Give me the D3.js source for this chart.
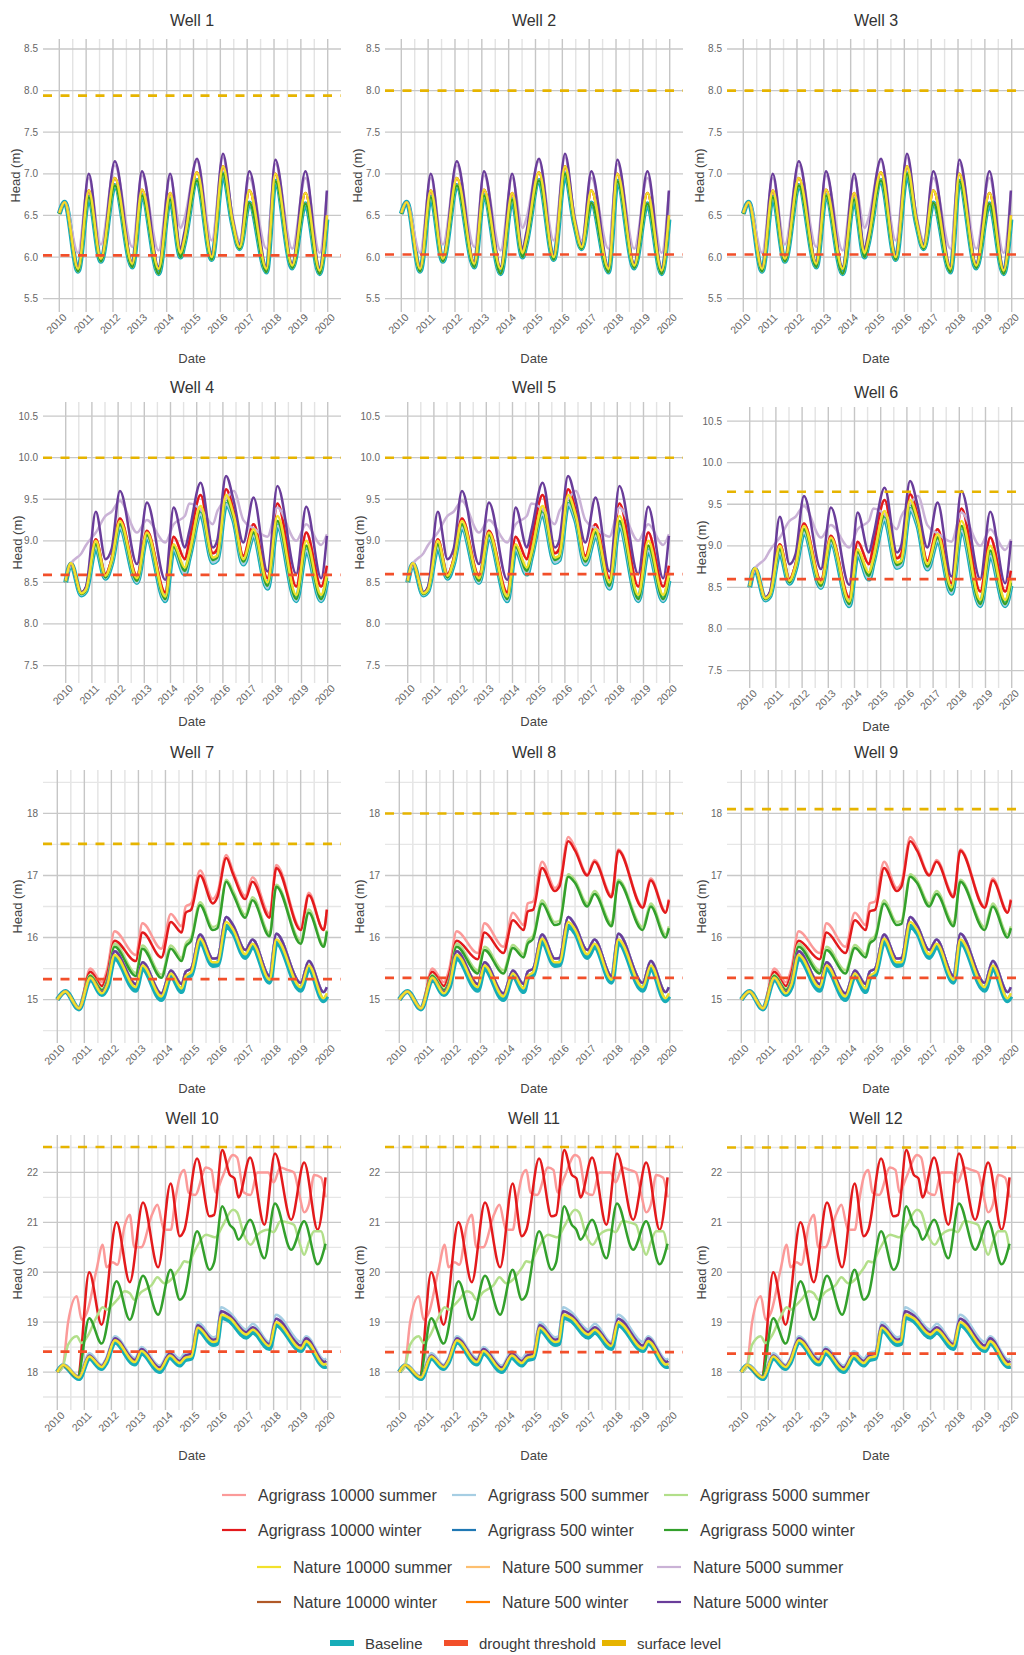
<!DOCTYPE html>
<html>
<head>
<meta charset="utf-8">
<script src="https://cdn.jsdelivr.net/npm/d3@7"></script>
<style>
  body { margin: 0; background: #fff; }
  svg text { font-family: "Liberation Sans", Arial, sans-serif; }
  .lg text { fill: #3a3a3a; }
</style>
</head>
<body>
<svg id="chart" width="1024" height="1655"></svg>
<script>
// ---- values (decimal years / head in m) ----
var scenarioNames = ["Agrigrass 10000 summer", "Agrigrass 10000 winter", "Agrigrass 500 summer", "Agrigrass 500 winter",
  "Agrigrass 5000 summer", "Agrigrass 5000 winter", "Nature 10000 summer", "Nature 10000 winter",
  "Nature 500 summer", "Nature 500 winter", "Nature 5000 summer", "Nature 5000 winter"];
var scenarioColors = ["#fb9a99", "#e31a1c", "#a6cee3", "#1f78b4", "#b2df8a", "#33a02c",
  "#f2e12b", "#b15928", "#fdbf6f", "#ff7f00", "#cab2d6", "#6a3d9a"];

var wellNames = ["Well 1", "Well 2", "Well 3", "Well 4", "Well 5", "Well 6",
  "Well 7", "Well 8", "Well 9", "Well 10", "Well 11", "Well 12"];
var surfaceLevel = [7.94, 8.0, 8.0, 10.0, 10.0, 9.65, 17.51, 18.0, 18.07, 22.51, 22.51, 22.5];
var droughtLevel = [6.02, 6.03, 6.03, 8.59, 8.6, 8.6, 15.33, 15.35, 15.35, 18.41, 18.4, 18.37];

// wells 1-3
var tA = [2010.0, 2010.2, 2010.7, 2011.1, 2011.55, 2012.07, 2012.72, 2013.08, 2013.7, 2014.13, 2014.52, 2014.65,
  2015.13, 2015.68, 2016.1, 2016.45, 2016.72, 2017.08, 2017.72, 2018.05, 2018.68, 2019.17, 2019.7, 2019.97];
var aBase = [6.52, 6.66, 5.83, 6.72, 5.95, 6.86, 5.88, 6.74, 5.8, 6.69, 6.0, 6.15, 6.92, 5.97, 7.0, 6.4, 6.1, 6.65, 5.82, 6.91, 5.87, 6.64, 5.8, 6.45];
var aYellow = [6.53, 6.66, 5.86, 6.8, 5.98, 6.95, 5.92, 6.81, 5.86, 6.77, 6.05, 6.2, 7.02, 6.0, 7.09, 6.44, 6.12, 6.8, 5.86, 7.0, 5.9, 6.77, 5.84, 6.5];
var aPurple = [6.53, 6.66, 5.87, 7.0, 5.98, 7.15, 5.93, 7.03, 5.88, 7.0, 6.1, 6.28, 7.18, 6.02, 7.24, 6.48, 6.14, 7.03, 5.88, 7.17, 5.92, 7.03, 5.86, 6.8];
var aLilac = [6.53, 6.66, 6.05, 6.95, 6.15, 7.1, 6.12, 6.98, 6.08, 6.95, 6.35, 6.45, 7.15, 6.2, 7.2, 6.5, 6.2, 6.95, 6.1, 7.12, 6.1, 6.95, 6.05, 6.78];

// wells 4-6
var tB = [2010.0, 2010.2, 2010.6, 2010.78, 2011.15, 2011.52, 2011.75, 2012.07, 2012.72, 2013.1, 2013.8, 2014.12, 2014.55, 2014.72,
  2015.15, 2015.62, 2015.78, 2016.12, 2016.42, 2016.78, 2017.17, 2017.7, 2018.08, 2018.8, 2019.18, 2019.75, 2019.97];
var bBase = [8.5, 8.72, 8.35, 8.4, 8.92, 8.55, 8.72, 9.16, 8.5, 9.04, 8.28, 8.9, 8.6, 8.8, 9.32, 8.74, 8.77, 9.44, 9.24, 8.72, 9.06, 8.43, 9.18, 8.28, 8.88, 8.28, 8.52];
var bYellow = [8.52, 8.73, 8.37, 8.42, 9.0, 8.58, 8.76, 9.24, 8.55, 9.1, 8.33, 8.96, 8.68, 8.85, 9.42, 8.8, 8.82, 9.55, 9.3, 8.78, 9.14, 8.5, 9.3, 8.35, 9.0, 8.35, 8.6];
var bRose = [8.52, 8.73, 8.38, 8.44, 9.02, 8.6, 8.78, 9.27, 8.58, 9.12, 8.38, 9.05, 8.78, 9.0, 9.55, 8.85, 8.9, 9.62, 9.35, 8.82, 9.2, 8.55, 9.45, 8.45, 9.1, 8.45, 8.7];
var bGreen = [8.51, 8.72, 8.36, 8.41, 8.96, 8.56, 8.74, 9.2, 8.52, 9.07, 8.3, 8.93, 8.64, 8.82, 9.37, 8.77, 8.8, 9.5, 9.27, 8.75, 9.1, 8.46, 9.24, 8.3, 8.94, 8.3, 8.56];
var bPurple = [8.52, 8.72, 8.38, 8.45, 9.35, 8.78, 8.9, 9.6, 8.72, 9.46, 8.53, 9.4, 8.92, 9.12, 9.7, 8.92, 9.0, 9.78, 9.47, 8.98, 9.52, 8.63, 9.66, 8.6, 9.41, 8.55, 9.06];
var bLilac = [8.55, 8.72, 8.85, 8.95, 9.1, 9.3, 9.35, 9.48, 9.1, 9.25, 8.98, 9.2, 9.3, 9.45, 9.38, 9.2, 9.35, 9.5, 9.6, 9.25, 9.15, 9.05, 9.4, 9.0, 9.2, 8.95, 9.08];

// wells 7-9
var tC = [2010.0, 2010.3, 2010.8, 2011.22, 2011.65, 2011.85, 2012.12, 2012.9, 2013.15, 2013.85, 2014.2, 2014.6, 2014.75, 2014.95,
  2015.28, 2015.75, 2015.92, 2016.25, 2016.5, 2016.95, 2017.22, 2017.85, 2018.1, 2019.0, 2019.3, 2019.85, 2019.97];
var cBase = [15.0, 15.13, 14.85, 15.33, 15.08, 15.2, 15.67, 15.15, 15.5, 15.0, 15.38, 15.13, 15.35, 15.4, 15.93, 15.55, 15.56, 16.18, 16.08, 15.68, 15.85, 15.28, 15.92, 15.15, 15.5, 14.98, 15.05];
var cYellow = [15.0, 15.13, 14.86, 15.35, 15.1, 15.24, 15.72, 15.2, 15.55, 15.05, 15.42, 15.18, 15.38, 15.44, 15.98, 15.6, 15.6, 16.25, 16.13, 15.73, 15.9, 15.32, 15.97, 15.2, 15.55, 15.02, 15.1];
var cPurple = [15.0, 15.13, 14.86, 15.35, 15.12, 15.27, 15.78, 15.25, 15.6, 15.1, 15.47, 15.25, 15.45, 15.5, 16.05, 15.66, 15.67, 16.33, 16.2, 15.8, 15.97, 15.38, 16.06, 15.27, 15.62, 15.12, 15.2];
var cGreen7 = [15.0, 15.13, 14.86, 15.38, 15.15, 15.3, 15.85, 15.38, 15.82, 15.35, 15.82, 15.62, 15.85, 15.95, 16.52, 16.12, 16.15, 16.9, 16.7, 16.32, 16.6, 16.02, 16.82, 15.9, 16.4, 15.85, 16.1];
var cLgreen7 = [15.0, 15.13, 14.86, 15.4, 15.17, 15.33, 15.9, 15.43, 15.87, 15.4, 15.87, 15.67, 15.9, 16.0, 16.57, 16.17, 16.2, 16.93, 16.75, 16.37, 16.65, 16.07, 16.85, 15.95, 16.45, 15.88, 16.12];
var cRed7 = [15.0, 15.13, 14.86, 15.45, 15.22, 15.42, 15.95, 15.62, 16.08, 15.68, 16.25, 16.08, 16.4, 16.45, 17.0, 16.55, 16.65, 17.28, 17.02, 16.62, 16.9, 16.32, 17.12, 16.12, 16.68, 16.12, 16.45];
var cPink7 = [15.0, 15.13, 14.86, 15.5, 15.28, 15.5, 16.1, 15.72, 16.23, 15.82, 16.38, 16.18, 16.5, 16.55, 17.08, 16.62, 16.72, 17.33, 17.07, 16.67, 16.97, 16.38, 17.17, 16.15, 16.72, 16.12, 16.45];
var cRed89 = [15.0, 15.13, 14.86, 15.45, 15.22, 15.42, 15.95, 15.65, 16.08, 15.75, 16.28, 16.12, 16.42, 16.45, 17.12, 16.75, 16.82, 17.55, 17.4, 17.0, 17.22, 16.65, 17.4, 16.48, 16.92, 16.4, 16.6];
var cPink89 = [15.0, 15.13, 14.86, 15.5, 15.28, 15.5, 16.1, 15.75, 16.23, 15.85, 16.4, 16.2, 16.55, 16.58, 17.22, 16.8, 16.88, 17.62, 17.45, 17.02, 17.25, 16.68, 17.42, 16.5, 16.95, 16.42, 16.62];
var cGreen89 = [15.0, 15.13, 14.86, 15.38, 15.15, 15.3, 15.85, 15.42, 15.8, 15.42, 15.83, 15.68, 15.9, 15.98, 16.55, 16.2, 16.22, 16.98, 16.88, 16.5, 16.7, 16.18, 16.9, 16.12, 16.5, 16.0, 16.15];
var cLgreen89 = [15.0, 15.13, 14.86, 15.4, 15.17, 15.33, 15.9, 15.47, 15.85, 15.47, 15.88, 15.73, 15.95, 16.03, 16.6, 16.25, 16.27, 17.02, 16.92, 16.55, 16.75, 16.23, 16.93, 16.17, 16.55, 16.05, 16.18];

// wells 10-12
var tDb = [2010.0, 2010.22, 2010.8, 2011.18, 2011.64, 2011.8, 2012.13, 2012.87, 2013.11, 2013.79, 2014.16, 2014.53, 2014.71, 2014.96,
  2015.2, 2015.76, 2015.9, 2016.06, 2016.37, 2016.99, 2017.23, 2017.84, 2018.09, 2019.02, 2019.2, 2019.88, 2019.95];
var dBase = [18.0, 18.13, 17.87, 18.28, 18.07, 18.18, 18.6, 18.16, 18.38, 18.01, 18.29, 18.14, 18.24, 18.28, 18.85, 18.55, 18.57, 19.1, 19.03, 18.7, 18.8, 18.47, 18.95, 18.43, 18.58, 18.11, 18.12];
var dYellow = [18.0, 18.14, 17.89, 18.31, 18.1, 18.21, 18.64, 18.2, 18.42, 18.05, 18.33, 18.18, 18.28, 18.32, 18.89, 18.6, 18.62, 19.15, 19.08, 18.75, 18.85, 18.52, 19.0, 18.47, 18.62, 18.15, 18.17];
var dPurple = [18.0, 18.14, 17.9, 18.33, 18.12, 18.24, 18.68, 18.24, 18.46, 18.09, 18.37, 18.22, 18.32, 18.37, 18.94, 18.65, 18.67, 19.22, 19.14, 18.8, 18.9, 18.56, 19.07, 18.53, 18.68, 18.2, 18.22];
var dLblue = [18.0, 18.15, 17.92, 18.38, 18.15, 18.27, 18.72, 18.28, 18.5, 18.13, 18.42, 18.27, 18.38, 18.42, 19.0, 18.7, 18.72, 19.3, 19.2, 18.85, 18.97, 18.6, 19.15, 18.6, 18.72, 18.25, 18.27];
var tDw = [2010.0, 2010.22, 2010.75, 2011.18, 2011.64, 2012.19, 2012.68, 2013.17, 2013.73, 2014.19, 2014.53, 2014.7, 2015.17,
  2015.63, 2015.8, 2016.1, 2016.38, 2016.55, 2016.7, 2017.13, 2017.66, 2018.05, 2018.65, 2019.13, 2019.63, 2019.92];
var dRed = [18.0, 18.13, 17.9, 20.0, 18.95, 21.0, 19.8, 21.4, 20.1, 21.78, 20.72, 20.85, 22.28, 21.12, 21.15, 22.45, 21.95, 21.88, 21.5, 22.3, 20.95, 22.38, 21.05, 22.2, 20.85, 21.9];
var dGreen = [18.0, 18.13, 17.9, 19.08, 18.57, 19.82, 19.05, 19.93, 19.15, 20.05, 19.45, 19.55, 20.82, 20.05, 20.2, 21.32, 20.95, 20.85, 20.65, 21.05, 20.28, 21.38, 20.45, 21.02, 20.16, 20.57];
var tDs = [2010.0, 2010.2, 2010.4, 2010.72, 2010.9, 2011.1, 2011.45, 2011.68, 2011.82, 2012.05, 2012.22, 2012.5, 2012.68, 2012.85,
  2013.1, 2013.5, 2013.7, 2013.95, 2014.2, 2014.35, 2014.55, 2014.7, 2014.85, 2015.1, 2015.5, 2015.7, 2015.85, 2016.1,
  2016.5, 2016.65, 2016.9, 2017.15, 2017.4, 2017.8, 2018.0, 2018.25, 2018.5, 2018.75, 2018.95, 2019.13, 2019.3, 2019.5, 2019.75, 2019.92];
var dPink = [18.0, 18.1, 19.0, 19.52, 19.05, 19.2, 20.05, 20.55, 20.1, 20.2, 20.15, 20.95, 21.15, 20.5,
  20.5, 21.15, 21.35, 20.85, 20.85, 21.4, 21.95, 22.05, 21.6, 21.55, 22.1, 22.05, 21.6, 21.9,
  22.35, 22.3, 21.6, 21.55, 22.0, 22.0, 21.8, 22.1, 22.05, 22.0, 21.55, 21.2, 21.35, 21.95, 21.9, 21.5];
var dLgreen = [18.0, 18.1, 18.55, 18.72, 18.58, 18.7, 19.1, 19.3, 19.25, 19.35, 19.45, 19.62, 19.58, 19.45,
  19.6, 19.75, 19.9, 19.78, 19.85, 19.95, 20.1, 20.22, 20.2, 20.45, 20.75, 20.72, 20.7, 20.92,
  21.25, 21.2, 20.75, 20.55, 20.75, 20.85, 20.8, 21.02, 21.0, 20.95, 20.6, 20.35, 20.6, 20.82, 20.82, 20.45];

// scenario -> [dates, values], in scenarioNames order
var seriesA = [[tA, aYellow], [tA, aYellow], [tA, aBase], [tA, aBase], [tA, aBase], [tA, aBase],
  [tA, aYellow], [tA, aBase], [tA, aYellow], [tA, aBase], [tA, aLilac], [tA, aPurple]];
var seriesB = [[tB, bRose], [tB, bRose], [tB, bBase], [tB, bBase], [tB, bGreen], [tB, bGreen],
  [tB, bYellow], [tB, bBase], [tB, bGreen], [tB, bBase], [tB, bLilac], [tB, bPurple]];
var seriesC7 = [[tC, cPink7], [tC, cRed7], [tC, cPurple], [tC, cPurple], [tC, cLgreen7], [tC, cGreen7],
  [tC, cYellow], [tC, cBase], [tC, cBase], [tC, cBase], [tC, cPurple], [tC, cPurple]];
var seriesC89 = [[tC, cPink89], [tC, cRed89], [tC, cPurple], [tC, cPurple], [tC, cLgreen89], [tC, cGreen89],
  [tC, cYellow], [tC, cBase], [tC, cBase], [tC, cBase], [tC, cPurple], [tC, cPurple]];
var seriesD = [[tDs, dPink], [tDw, dRed], [tDb, dLblue], [tDb, dYellow], [tDs, dLgreen], [tDw, dGreen],
  [tDb, dYellow], [tDb, dBase], [tDb, dYellow], [tDb, dBase], [tDb, dPurple], [tDb, dPurple]];

var wellSeries = [seriesA, seriesA, seriesA, seriesB, seriesB, seriesB, seriesC7, seriesC89, seriesC89, seriesD, seriesD, seriesD];
var wellBaseline = [[tA, aBase], [tA, aBase], [tA, aBase], [tB, bBase], [tB, bBase], [tB, bBase],
  [tC, cBase], [tC, cBase], [tC, cBase], [tDb, dBase], [tDb, dBase], [tDb, dBase]];

// ---- layout ----
var colX = [0, 342, 684];
var rows = [
  {top: 39, bottom: 312, x0: 59.3, ylab: 15, title: 25.5, date: 362.5, yDomain: [5.34, 8.62],
    yTicks: [5.5, 6, 6.5, 7, 7.5, 8, 8.5], yMinor: [], fmt: ".1f"},
  {top: 402, bottom: 683, x0: 65.7, ylab: 17, title: 392.5, date: 726, yDomain: [7.29, 10.67],
    yTicks: [7.5, 8, 8.5, 9, 9.5, 10, 10.5], yMinor: [], fmt: ".1f"},
  {top: 770, bottom: 1043, x0: 57.3, ylab: 17, title: 757.5, date: 1093, yDomain: [14.3, 18.7],
    yTicks: [15, 16, 17, 18], yMinor: [14.5, 15.5, 16.5, 17.5, 18.5], fmt: "d"},
  {top: 1135, bottom: 1410, x0: 57.3, ylab: 17, title: 1123.5, date: 1460, yDomain: [17.24, 22.75],
    yTicks: [18, 19, 20, 21, 22], yMinor: [17.5, 18.5, 19.5, 20.5, 21.5, 22.5], fmt: "d"}
];
var wellShift = [0, 0, 0, 0, 0, 5, 0, 0, 0, 0, 0, 0];
var panelL = 43, panelR = 341, x2020 = 327.7;
var baseColor = "#17adb8", droughtColor = "#f24f2a", surfaceColor = "#e6b400";
var drawOrder = [3, 7, 9, 8, -1, 2, 0, 1, 4, 5, 10, 11, 6];

var svg = d3.select("#chart");
svg.append("rect").attr("width", 1024).attr("height", 1655).attr("fill", "#fff");

wellNames.forEach(function(name, i) {
  var r = rows[Math.floor(i / 3)];
  var g = svg.append("g").attr("transform", "translate(" + colX[i % 3] + "," + wellShift[i] + ")");
  var x = d3.scaleLinear().domain([2010, 2020]).range([r.x0, x2020]);
  var y = d3.scaleLinear().domain(r.yDomain).range([r.bottom, r.top]);

  // grid
  var years = d3.range(2010, 2021);
  var halves = d3.range(2010.5, 2020, 1);
  g.selectAll("line.vmin").data(halves).enter().append("line")
    .attr("x1", x).attr("x2", x).attr("y1", r.top).attr("y2", r.bottom)
    .attr("stroke", "#e3e3e3").attr("stroke-width", 1.4);
  g.selectAll("line.hmin").data(r.yMinor).enter().append("line")
    .attr("x1", panelL).attr("x2", panelR).attr("y1", y).attr("y2", y)
    .attr("stroke", "#e6e6e6").attr("stroke-width", 1.3);
  g.selectAll("line.vmaj").data(years).enter().append("line")
    .attr("x1", x).attr("x2", x).attr("y1", r.top).attr("y2", r.bottom)
    .attr("stroke", "#c6c6c6").attr("stroke-width", 1.4);
  g.selectAll("line.hmaj").data(r.yTicks).enter().append("line")
    .attr("x1", panelL).attr("x2", panelR).attr("y1", y).attr("y2", y)
    .attr("stroke", "#c8c8c8").attr("stroke-width", 1.3);

  // tick labels
  var fmt = d3.format(r.fmt);
  g.selectAll("text.yt").data(r.yTicks).enter().append("text")
    .attr("x", panelL - 5).attr("y", y).attr("dy", "0.35em")
    .attr("text-anchor", "end").attr("font-size", 10).attr("fill", "#666")
    .text(fmt);
  g.selectAll("text.xt").data(years).enter().append("text")
    .attr("transform", function(d) { return "translate(" + (x(d) + 8) + "," + (r.bottom + 6) + ") rotate(-45)"; })
    .attr("text-anchor", "end").attr("font-size", 10.5).attr("fill", "#666")
    .text(function(d) { return d; });

  // titles
  g.append("text").attr("x", (panelL + panelR) / 2).attr("y", r.title)
    .attr("text-anchor", "middle").attr("font-size", 16).attr("fill", "#333").text(name);
  g.append("text").attr("x", (panelL + panelR) / 2).attr("y", r.date)
    .attr("text-anchor", "middle").attr("font-size", 13).attr("fill", "#444").text("Date");
  g.append("text")
    .attr("transform", "translate(" + r.ylab + "," + (r.top + r.bottom) / 2 + ") rotate(-90)")
    .attr("dy", "0.35em").attr("text-anchor", "middle").attr("font-size", 13).attr("fill", "#444")
    .text("Head (m)");

  // series
  var line = d3.line()
    .x(function(d) { return x(d[0]); })
    .y(function(d) { return y(d[1]); })
    .curve(d3.curveMonotoneX);
  drawOrder.forEach(function(k) {
    var s = k < 0 ? wellBaseline[i] : wellSeries[i][k];
    var pts = d3.zip(s[0], s[1]);
    g.append("path").datum(pts)
      .attr("d", line)
      .attr("fill", "none")
      .attr("stroke", k < 0 ? baseColor : scenarioColors[k])
      .attr("stroke-width", k < 0 ? 5 : 2.5)
      .attr("stroke-linejoin", "round");
  });

  // reference levels
  [[surfaceLevel[i], surfaceColor], [droughtLevel[i], droughtColor]].forEach(function(lv) {
    g.append("line")
      .attr("x1", panelL).attr("x2", panelR).attr("y1", y(lv[0])).attr("y2", y(lv[0]))
      .attr("stroke", lv[1]).attr("stroke-width", 2.6).attr("stroke-dasharray", "9,8.5");
  });
});

// ---- legend ----
var lg = svg.append("g").attr("class", "lg");
var legendBlocks = [
  {keys: [[0, 2, 4], [1, 3, 5]], xs: [222, 452, 664], ys: [1495, 1530]},
  {keys: [[6, 8, 10], [7, 9, 11]], xs: [257, 466, 657], ys: [1567, 1602]}
];
legendBlocks.forEach(function(b) {
  b.keys.forEach(function(rowKeys, ri) {
    rowKeys.forEach(function(k, ci) {
      var x0 = b.xs[ci], yy = b.ys[ri];
      lg.append("line").attr("x1", x0).attr("x2", x0 + 24).attr("y1", yy).attr("y2", yy)
        .attr("stroke", scenarioColors[k]).attr("stroke-width", 2.2);
      lg.append("text").attr("x", x0 + 36).attr("y", yy + 5.8)
        .attr("font-size", 16).text(scenarioNames[k]);
    });
  });
});
var fillKeys = [["Baseline", baseColor, 330], ["drought threshold", droughtColor, 444], ["surface level", surfaceColor, 602]];
fillKeys.forEach(function(f) {
  lg.append("rect").attr("x", f[2]).attr("y", 1640).attr("width", 24).attr("height", 6).attr("fill", f[1]);
  lg.append("text").attr("x", f[2] + 35).attr("y", 1648.5).attr("font-size", 15).text(f[0]);
});
</script>
</body>
</html>
